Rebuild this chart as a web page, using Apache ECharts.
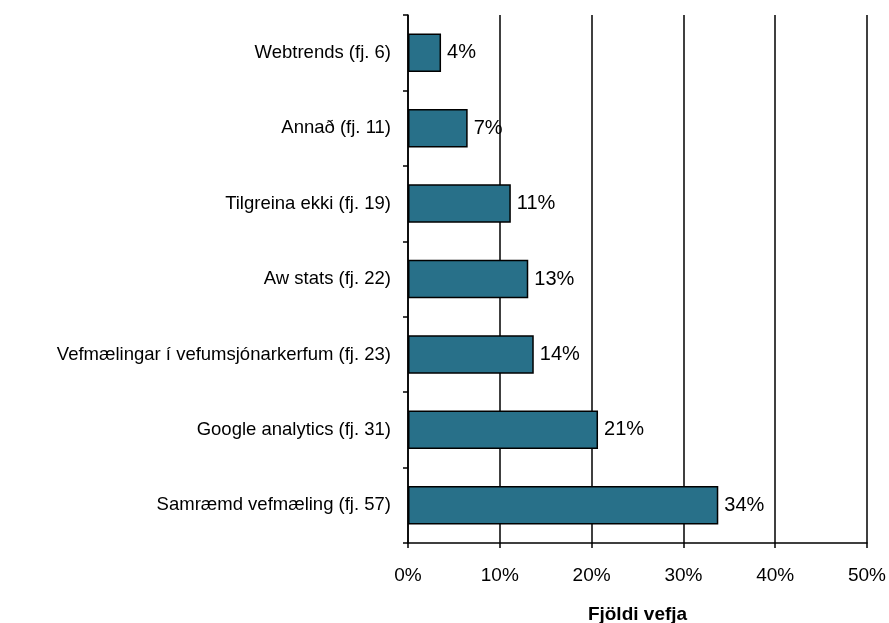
<!DOCTYPE html>
<html>
<head>
<meta charset="utf-8">
<script src="https://cdn.jsdelivr.net/npm/echarts@6/dist/echarts.min.js"></script>
<style>
  html, body { margin: 0; padding: 0; background: #fff; }
  #main { width: 889px; height: 623px; }
</style>
</head>
<body>
<div id="main"></div>
<script>
// categories listed bottom to top (as in the category axis)
var categories = [
  'Samræmd vefmæling (fj. 57)',
  'Google analytics (fj. 31)',
  'Vefmælingar í vefumsjónarkerfum (fj. 23)',
  'Aw stats (fj. 22)',
  'Tilgreina ekki (fj. 19)',
  'Annað (fj. 11)',
  'Webtrends (fj. 6)'
]
var shares = [33.8, 20.7, 13.7, 13.1, 11.2, 6.5, 3.6]
var xTicks = [0, 10, 20, 30, 40, 50]

var myChart = echarts.init(document.getElementById('main'))
var font = 'Liberation Sans, Arial, sans-serif'

var option = {
  animation: false,
  grid: { left: 408, right: 22, top: 15, bottom: 80, containLabel: false, outerBoundsMode: 'none' },
  xAxis: {
    type: 'value',
    min: xTicks[0],
    max: xTicks[xTicks.length - 1],
    interval: 10,
    name: 'Fjöldi vefja',
    nameLocation: 'middle',
    nameGap: 62,
    nameTextStyle: { fontFamily: font, fontSize: 19, fontWeight: 'bold', color: '#000' },
    axisLine: { show: true, lineStyle: { color: '#000', width: 1.5 } },
    axisTick: { show: true, length: 5, lineStyle: { color: '#000', width: 1.5 } },
    axisLabel: { margin: 23, fontFamily: font, fontSize: 19, color: '#000', formatter: '{value}%' },
    splitLine: { show: true, lineStyle: { color: '#000', width: 1.5 } }
  },
  yAxis: {
    type: 'category',
    data: categories,
    axisLine: { show: true, lineStyle: { color: '#000', width: 1.5 } },
    axisTick: { show: true, length: 5, lineStyle: { color: '#000', width: 1.5 } },
    axisLabel: { margin: 17, fontFamily: font, fontSize: 18.5, color: '#000' }
  },
  series: [{
    type: 'bar',
    data: shares,
    barWidth: '51%',
    itemStyle: { color: '#287089', borderColor: '#000', borderWidth: 1.5 },
    label: {
      show: true,
      position: 'right',
      distance: 6,
      fontFamily: font,
      fontSize: 20,
      color: '#000',
      formatter: function (p) { return Math.round(p.value) + '%' }
    }
  }]
}

myChart.setOption(option)
</script>
</body>
</html>
